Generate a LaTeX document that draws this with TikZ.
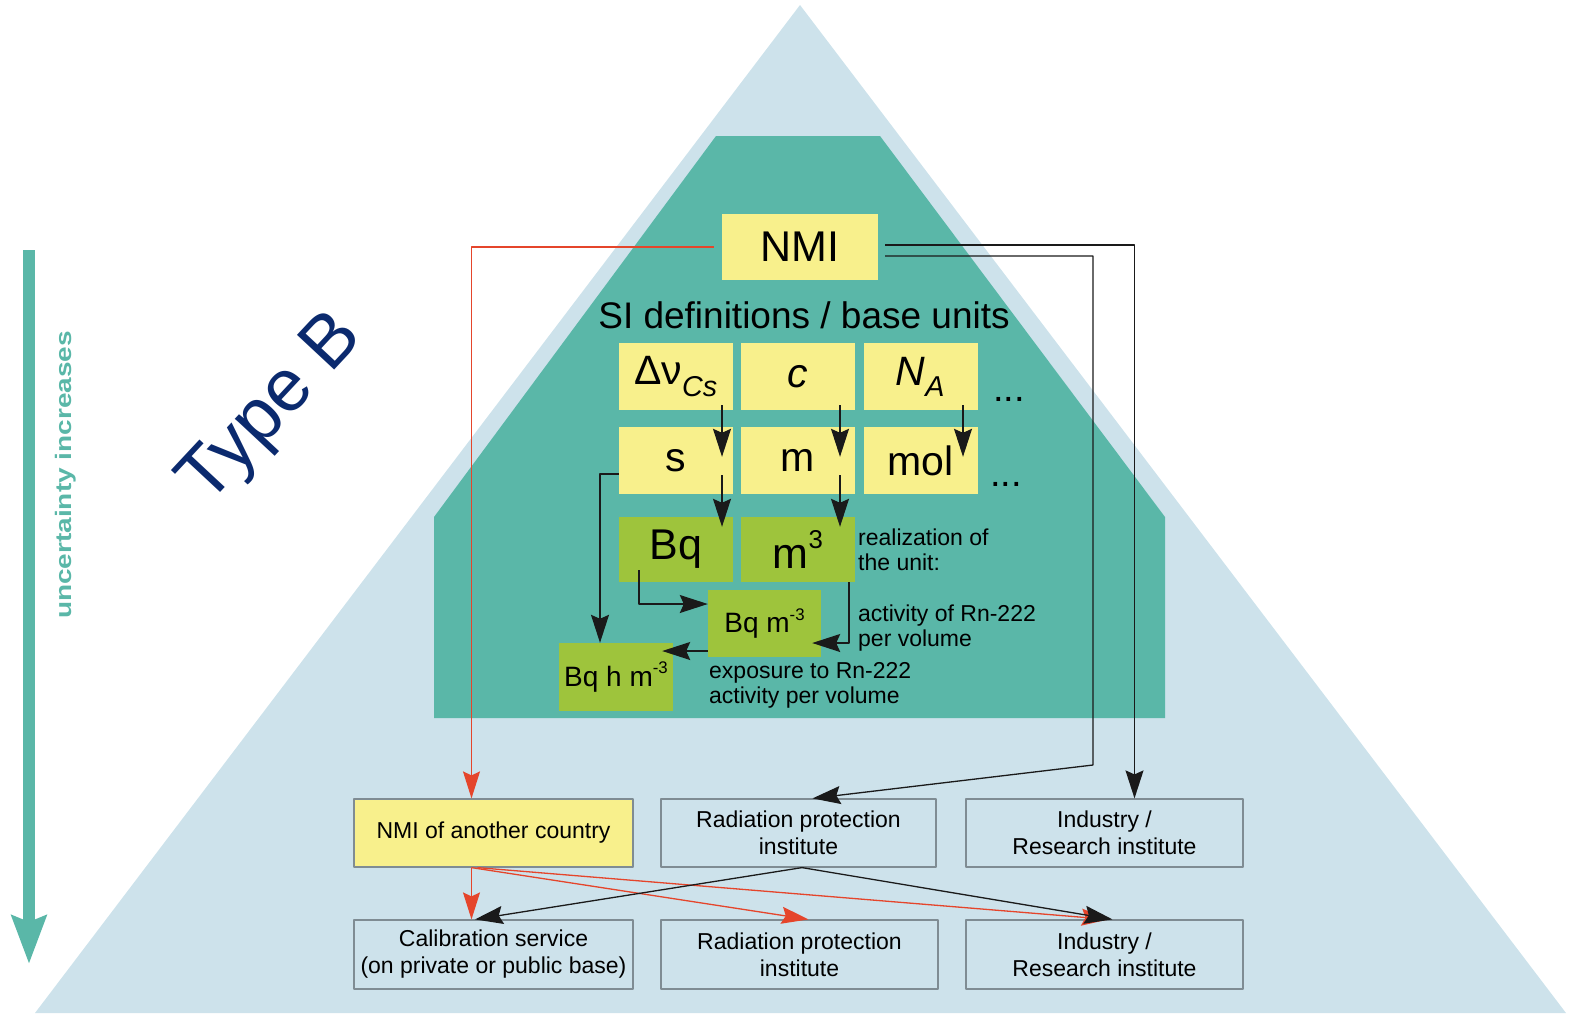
\documentclass[tikz,border=0pt]{standalone}
\usepackage{fontspec}
\setmainfont{Liberation Sans}
\usepackage{tikz}
\usetikzlibrary{arrows.meta}
\definecolor{sky}{HTML}{CDE2EB}
\definecolor{lagoon}{HTML}{5AB7A8}
\definecolor{sunny}{HTML}{F8F08C}
\definecolor{leaf}{HTML}{9EC43C}
\definecolor{frame}{HTML}{7F8C93}
\definecolor{ink}{HTML}{1A1A1A}
\definecolor{flame}{HTML}{E5452B}
\definecolor{navy}{HTML}{0B2A6E}
\newcommand{\upidx}[1]{\raisebox{0.45em}{\scalebox{0.6}{#1}}}
\tikzset{fig/.style={line join=round,>=Stealth},
  unitbox/.style={fill=sunny,minimum width=114pt,minimum height=67pt,inner sep=0pt,font=\fontsize{41}{45}\selectfont},
  realbox/.style={unitbox,fill=leaf,font=\fontsize{43}{45}\selectfont},
  smallbox/.style={realbox,minimum width=113pt,font=\fontsize{28}{32}\selectfont},
  instbox/.style={draw=frame,line width=1.2pt,minimum width=277pt,minimum height=68pt,inner sep=0pt,align=center,font=\fontsize{23}{27}\selectfont},
  unitnote/.style={anchor=west,align=left,inner sep=0pt,font=\fontsize{23}{25}\selectfont},
  blk/.style={ink,line width=1.3pt,-{Stealth[length=28pt,width=18pt,inset=4pt]}},
  hot/.style={flame,line width=1.3pt,-{Stealth[length=27pt,width=17pt,inset=4pt]}}}
\begin{document}
\begin{tikzpicture}[fig,x=1pt,y=-1pt]
  \useasboundingbox(0,0)rectangle(1582,1013);
  % pyramid and the primary level
  \fill[sky](800,5)--(1566,1013)--(35,1013)--cycle;
  \fill[lagoon](716,136)--(880,136)--(1165,517)--(1165,718)--(434,718)--(434,517)--cycle;
  % scale on the left
  \coordinate(utop)at(29,250);
  \coordinate(ubot)at(29,964);
  \draw[lagoon,line width=12pt,-{Stealth[length=48pt,width=34pt,inset=6pt]}](utop)--(ubot);
  \node[lagoon,rotate=90,font=\bfseries\fontsize{28}{30}\selectfont](unc)at(66,475){\scalebox{1}[0.8]{uncertainty increases}};
  \node[navy,rotate=47,font=\fontsize{74}{76}\selectfont](typeb)at(273,410){Type B};
  % NMI and the SI
  \node[unitbox,minimum width=156pt,minimum height=66pt,font=\fontsize{43}{45}\selectfont](nmi)at(800,247){NMI};
  \node[font=\fontsize{37}{40}\selectfont](si)at(804,315){SI definitions / base units};
  \node[unitbox](dnu)at(676,376.5){Δν\textsubscript{\itshape Cs}};
  \node[unitbox](lc)at(798,376.5){\itshape c};
  \node[unitbox](na)at(920.5,376.5){\itshape N\textsubscript{A}};
  \node[font=\fontsize{38}{40}\selectfont](dotsa)at(1009,399){...};
  \node[unitbox](s)at(676,460.5){s};
  \node[unitbox](m)at(798,460.5){m};
  \node[unitbox](mol)at(920.5,460.5){mol};
  \node[font=\fontsize{38}{40}\selectfont](dotsb)at(1006,484){...};
  \node[realbox,minimum height=65pt](bq)at(676,549.5){Bq};
  \node[realbox,minimum height=65pt](m3)at(798,549.5){m\upidx{3}};
  \node[smallbox](bqm)at(764.5,623.5){Bq m\upidx{-3}};
  \node[smallbox,minimum width=114pt,minimum height=68pt](bqhm)at(616,677){Bq h m\upidx{-3}};
  \node[unitnote](real)at(858,550){realization of\\the unit:};
  \node[unitnote](act)at(858,628.5){activity of Rn-222\\per volume};
  \node[unitnote](expo)at(709,685.5){exposure to Rn-222\\activity per volume};
  % institutes
  \node[instbox,fill=sunny,minimum width=279pt](nmib)at(493.5,833){NMI of another country};
  \node[instbox,minimum width=275pt](rpia)at(798.5,833){Radiation protection\\institute};
  \node[instbox](inda)at(1104.5,833){Industry /\\Research institute};
  \node[instbox,minimum width=279pt,minimum height=69pt](cal)at(493.5,954.5){Calibration service\\(on private or public base)};
  \node[instbox,minimum height=69pt](rpib)at(799.5,954.5){Radiation protection\\institute};
  \node[instbox,minimum height=69pt](indb)at(1104.5,954.5){Industry /\\Research institute};
  % traceability from the NMI
  \draw[hot]([xshift=-8]nmi.west)-|([xshift=-22]nmib.north);
  \draw[blk]([xshift=7,yshift=2]nmi.east)-|([xshift=30]inda.north);
  \coordinate(bend)at(1093,765);
  \draw[blk]([xshift=7,yshift=-9]nmi.east)-|(bend)--([xshift=14]rpia.north);
  % inside the primary level
  \draw[blk]([xshift=46,yshift=5]dnu.south)--([xshift=46,yshift=-30]s.north);
  \draw[blk]([xshift=42,yshift=5]lc.south)--([xshift=42,yshift=-30]m.north);
  \draw[blk]([xshift=42.5,yshift=5]na.south)--([xshift=42.5,yshift=-30]mol.north);
  \draw[blk]([xshift=46,yshift=19]s.south)--([xshift=46,yshift=-10]bq.north);
  \draw[blk]([xshift=42,yshift=19]m.south)--([xshift=42,yshift=-10]m3.north);
  \draw[blk]([yshift=-13.5]s.west)-|([xshift=-16]bqhm.north);
  \draw[blk]([xshift=-37,yshift=12]bq.south)|-([yshift=19.5]bqm.west);
  \draw[blk]([xshift=51]m3.south)|-([xshift=-9,yshift=-19.5]bqm.east);
  \draw[blk]([yshift=-27.5]bqm.west)--([xshift=-11,yshift=26]bqhm.east);
  % secondary level
  \draw[hot]([xshift=-22]nmib.south)--([xshift=-22]cal.north);
  \draw[hot]([xshift=-22]nmib.south)--([xshift=9]rpib.north);
  \draw[hot]([xshift=-16]nmib.south)--([xshift=4]indb.north);
  \draw[blk]([xshift=3.5]rpia.south)--([xshift=-18.5]cal.north);
  \draw[blk]([xshift=3.5]rpia.south)--([xshift=8]indb.north);
\end{tikzpicture}
\end{document}
